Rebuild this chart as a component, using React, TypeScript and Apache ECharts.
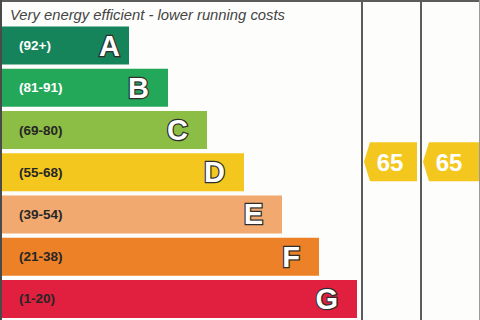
import React, { useEffect, useRef } from "react";
import * as echarts from "echarts";

// Energy efficiency bands, top (best) to bottom (worst)
const bandLetters = ["A", "B", "C", "D", "E", "F", "G"];
const bandRanges = ["(92+)", "(81-91)", "(69-80)", "(55-68)", "(39-54)", "(21-38)", "(1-20)"];
const bandLow = [92, 81, 69, 55, 39, 21, 1];
const bandHigh = [100, 91, 80, 68, 54, 38, 20];
const bandWidths = [129, 168, 207, 244, 282, 319, 357];
const bandColors = ["#16845a", "#23a85a", "#8cbd44", "#f4c71f", "#f2a96f", "#ec8127", "#e11f3e"];
const rangeLabelColors = ["#ffffff", "#ffffff", "#262626", "#262626", "#262626", "#262626", "#262626"];

// Ratings: current and potential
const ratingScores = [65, 65];

const headerText = "Very energy efficient - lower running costs";
const FONT = "Arial, 'Liberation Sans', Helvetica, sans-serif";

// left edge of each rating column
const columnLeft = [362, 421];

function bandOf(score: number) {
  for (let i = 0; i < bandLow.length; i++) {
    if (score >= bandLow[i] && score <= bandHigh[i]) return i;
  }
  return bandLow.length - 1;
}

export default function App() {
  const ref = useRef<HTMLDivElement>(null);

  useEffect(() => {
    if (!ref.current) return;
    const chart = echarts.init(ref.current, undefined, { renderer: "svg" });

    const ratingData = ratingScores.map((s, i) => [0, bandOf(s), s, i]);

    chart.setOption({
      animation: false,
      backgroundColor: "#fdfdfb",
      grid: { left: 0, right: 0, top: 24.5, height: 301 },
      xAxis: { type: "value", min: 0, max: 480, show: false },
      yAxis: {
        type: "category",
        data: bandLetters,
        inverse: true,
        show: false,
      },
      series: [
        {
          type: "bar",
          barWidth: 38,
          data: bandWidths.map((w, i) => ({
            value: w,
            itemStyle: { color: bandColors[i] },
            label: { color: rangeLabelColors[i] },
          })),
          label: {
            show: true,
            position: "insideLeft",
            distance: 19,
            fontFamily: FONT,
            fontWeight: "bold",
            fontSize: 13.5,
            formatter: (p: any) => bandRanges[p.dataIndex],
          },
          silent: true,
          z: 2,
        },
        {
          type: "bar",
          barWidth: 38,
          barGap: "-100%",
          data: bandWidths.map((w, i) => ({
            value: w,
            label: { distance: i === 0 ? 9 : 19 },
          })),
          itemStyle: { color: "rgba(0,0,0,0)" },
          label: {
            show: true,
            position: "insideRight",
            fontFamily: FONT,
            fontWeight: "bold",
            fontSize: 29,
            color: "#ffffff",
            textBorderColor: "#2e2e2e",
            textBorderWidth: 2.5,
            formatter: (p: any) => bandLetters[p.dataIndex],
          },
          silent: true,
          z: 3,
        },
        {
          type: "custom",
          name: "rating",
          clip: false,
          data: ratingData,
          renderItem: (params: any, api: any) => {
            const band = api.value(1);
            const score = api.value(2);
            const col = api.value(3);
            const center = api.coord([0, band])[1];
            const size = api.size([0, 1])[1];
            // arrow sits at the score's position within its band
            const frac = (score - bandLow[band] + 0.5) / (bandHigh[band] - bandLow[band] + 1);
            const y = center + size / 2 - frac * size;
            const h = 19.5;
            const x0 = columnLeft[col] + 2;
            const x1 = x0 + 6;
            const x2 = col === 0 ? columnLeft[1] - 4 : 480;
            return {
              type: "group",
              children: [
                {
                  type: "polygon",
                  shape: {
                    points: [
                      [x0, y],
                      [x1, y - h],
                      [x2, y - h],
                      [x2, y + h],
                      [x1, y + h],
                    ],
                  },
                  style: { fill: bandColors[band] },
                },
                {
                  type: "text",
                  x: columnLeft[col] + 28,
                  y: y + 1,
                  style: {
                    text: String(score),
                    fill: "#ffffff",
                    font: `bold 24px ${FONT}`,
                    align: "center",
                    verticalAlign: "middle",
                  },
                },
              ],
            };
          },
          z: 4,
        },
      ],
      graphic: [
        {
          type: "text",
          left: 10,
          top: 7,
          style: {
            text: headerText,
            fill: "#444444",
            font: `italic 14.8px ${FONT}`,
          },
        },
        {
          type: "line",
          shape: { x1: 0, y1: 1, x2: 480, y2: 1 },
          style: { stroke: "#5c5c5c", lineWidth: 2 },
          z: 10,
        },
        {
          type: "line",
          shape: { x1: 1, y1: 0, x2: 1, y2: 320 },
          style: { stroke: "#4a4a4a", lineWidth: 2 },
          z: 10,
        },
        ...columnLeft.map((x) => ({
          type: "line",
          shape: { x1: x, y1: 0, x2: x, y2: 320 },
          style: { stroke: "#5c5c5c", lineWidth: 2 },
          z: 10,
        })),
        {
          type: "line",
          shape: { x1: 479.5, y1: 0, x2: 479.5, y2: 320 },
          style: { stroke: "#9a9a9a", lineWidth: 1 },
          z: 10,
        },
      ],
    });

    return () => chart.dispose();
  }, []);

  return (
    <div
      ref={ref}
      style={{ position: "fixed", left: 0, top: 0, width: 480, height: 320 }}
    />
  );
}
